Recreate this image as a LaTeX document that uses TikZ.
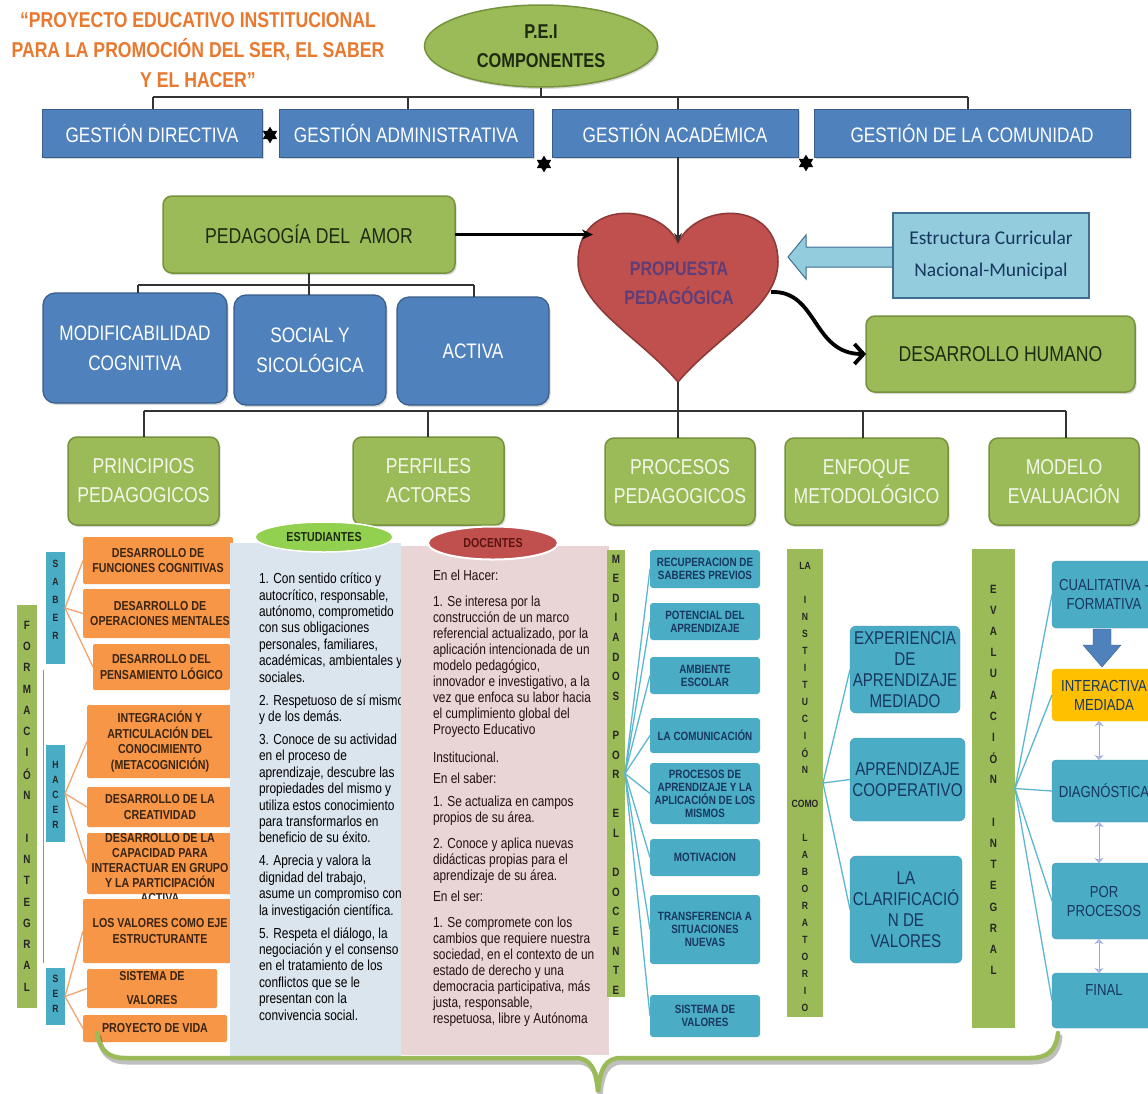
\documentclass[tikz,border=0pt]{standalone}
\usepackage{fontspec}
\setmainfont{Liberation Sans}[FakeStretch=0.82]
\newfontfamily\calib{Carlito}
\usetikzlibrary{shapes.geometric,arrows.meta,shadows}
\definecolor{gfill}{HTML}{9BBB59}
\definecolor{gline}{HTML}{76923C}
\definecolor{egreen}{HTML}{92D050}
\definecolor{bfill}{HTML}{4F81BD}
\definecolor{bline}{HTML}{385D8A}
\definecolor{tfill}{HTML}{4BACC6}
\definecolor{tline}{HTML}{4199B2}
\definecolor{ofill}{HTML}{F79646}
\definecolor{hfill}{HTML}{C0504D}
\definecolor{hline}{HTML}{8C3836}
\definecolor{lbfill}{HTML}{93CDDD}
\definecolor{lbline}{HTML}{3F6F93}
\definecolor{pblue}{HTML}{DAE5EE}
\definecolor{ppink}{HTML}{EAD5D6}
\definecolor{titor}{HTML}{E8792F}
\definecolor{hearttxt}{HTML}{5F3D78}
\definecolor{navy}{HTML}{17375E}
\definecolor{ylw}{HTML}{FFC000}
\definecolor{lav}{HTML}{9AA6DE}
\definecolor{fan}{HTML}{5DB6D0}
\definecolor{ofan}{HTML}{F2A46E}
\definecolor{gtxt}{HTML}{F3F7EA}
\definecolor{dk}{HTML}{1E2A10}
\definecolor{otxt}{HTML}{3A2412}
\definecolor{doctxt}{HTML}{241010}
\definecolor{docred}{HTML}{5C1412}
\newcommand{\fsz}[2]{\fontsize{#1}{#2}\selectfont}
\newcommand{\boxat}[7]{\node[#2, minimum width={(#5)-(#3)}, minimum height={(#6)-(#4)}] (#1) at ({((#3)+(#5))/2},{((#4)+(#6))/2}) {#7};}
\newcommand{\bracepath}{(97,1033) .. controls (100,1052) and (110,1058) .. (125,1058) -- (575,1058) .. controls (590,1058) and (596,1068) .. (598,1092) .. controls (600,1068) and (606,1058) .. (621,1058) -- (1030,1058) .. controls (1046,1058) and (1056,1052) .. (1058,1033)}
\tikzset{
 nbase/.style={inner sep=0pt, outer sep=0pt, align=center},
 shd/.style={drop shadow={shadow xshift=1.5pt, shadow yshift=-2pt, opacity=0.3}},
 topbox/.style={nbase, shd, fill=bfill, draw=bline, line width=1pt, text=white, font=\fsz{21}{24}},
 bbox/.style={nbase, shd, fill=bfill, draw=bline, line width=1.2pt, rounded corners=12pt, text=white, font=\fsz{21}{30}},
 gbox/.style={nbase, shd, fill=gfill, draw=gline, line width=1.5pt, rounded corners=9pt, text=gtxt, font=\fsz{21.5}{29}},
 gdbox/.style={gbox, text=dk},
 obox/.style={nbase, fill=ofill, rounded corners=2pt, text=otxt, font=\bfseries\fsz{13}{15.5}},
 tbox/.style={nbase, fill=tfill, rounded corners=3pt, text=navy, font=\bfseries\fsz{12}{13}},
 ebox/.style={nbase, fill=tfill, draw=tline, rounded corners=6pt, text=navy, font=\fsz{18.5}{21}},
 rbox/.style={nbase, fill=tfill, draw=tline, rounded corners=4pt, text=navy, font=\fsz{16}{19}},
 vbar/.style={nbase, fill=gfill},
 sbar/.style={nbase, fill=tfill},
 vl/.style={nbase, font=\bfseries\fsz{12}{12}, text=black!85},
 vls/.style={nbase, font=\bfseries\fsz{10.5}{10.5}, text=black!85},
 conn/.style={draw=black!80, line width=1.3pt},
 fanl/.style={draw=fan, line width=1.3pt},
 ofanl/.style={draw=ofan, line width=1.3pt},
 dbl/.style={draw=lav, line width=1pt, {Stealth[open,length=5pt,width=9pt]}-{Stealth[open,length=5pt,width=9pt]}},
 ast/.style={star, star points=6, star point ratio=1.7, fill=black, draw=black, line width=0.8pt, minimum size=15pt, inner sep=0pt},
}
\begin{document}
\begin{tikzpicture}[x=1pt,y=-1pt]
\useasboundingbox (0,0) rectangle (1148,1093);
\fill[white] (0,0) rectangle (1148,1093);

% ---------- top ----------
\node[nbase, font=\bfseries\fsz{21.5}{30}, text=titor] (title) at (198,50) {“PROYECTO EDUCATIVO INSTITUCIONAL\\PARA LA PROMOCIÓN DEL SER, EL SABER\\Y EL HACER”};
\node[ellipse, shd, fill=gfill, draw=gline, line width=1.5pt, minimum width=233, minimum height=82, inner sep=0pt, align=center, font=\bfseries\fsz{20}{29}, text=dk] (pei) at (541,46) {P.E.I\\COMPONENTES};

\boxat{gd}{topbox}{42}{109}{262}{157}{GESTIÓN DIRECTIVA}
\boxat{ga}{topbox}{279}{109}{533}{157}{GESTIÓN ADMINISTRATIVA}
\boxat{gac}{topbox}{552}{109}{798}{157}{GESTIÓN ACADÉMICA}
\boxat{gc}{topbox}{814}{109}{1130}{157}{GESTIÓN DE LA COMUNIDAD}

\coordinate (pj) at (541,97);
\coordinate (j1) at (153,97); \coordinate (j2) at (408,97);
\coordinate (j3) at (678,97); \coordinate (j4) at (968,97);
\draw[conn] (pei.south) -- (pj);
\draw[conn] (j1) -- (j4);
\draw[conn] (j1) -- (j1 |- gd.north);
\draw[conn] (j2) -- (j2 |- ga.north);
\draw[conn] (j3) -- (j3 |- gac.north);
\draw[conn] (j4) -- (j4 |- gc.north);

\node[ast] (s1) at (270,135) {};
\node[ast] (s2) at (544,164) {};
\node[ast] (s3) at (806,163) {};

% ---------- heart ----------
\coordinate (hd) at (678,243);
\coordinate (ht) at (678,382);
\filldraw[fill=hfill, draw=hline, line width=1.5pt] (hd) .. controls (660,203) and (578,198) .. (578,262) .. controls (578,307) and (640,337) .. (ht) .. controls (716,337) and (778,307) .. (778,262) .. controls (778,198) and (696,203) .. (hd) -- cycle;
\node[nbase, font=\bfseries\fsz{19.5}{29}, text=hearttxt] (ptxt) at (679,283) {PROPUESTA\\PEDAGÓGICA};
\draw[conn, line width=1.8pt, -{Stealth[length=10pt,width=8pt]}] (hd |- gac.south) -- (hd);

\boxat{ped}{gdbox}{163}{196}{455}{273}{PEDAGOGÍA DEL\ \ AMOR}
\coordinate (hl) at (593,234);
\draw[line width=2.8pt, -{Stealth[length=11pt,width=10pt]}] (ped.east) -- (ped.east -| hl);

\filldraw[fill=lbfill, draw=lbline, line width=1pt] (788,257) -- (806,235) -- (806,247) -- (895,247) -- (895,267) -- (806,267) -- (806,279) -- cycle;
\boxat{ec}{nbase, fill=lbfill, draw=lbline, line width=1.2pt, text=navy, font=\calib\fsz{19.5}{32}}{893}{213}{1089}{298}{Estructura Curricular\\Nacional-Municipal}

\boxat{dh}{gdbox}{866}{316}{1135}{392}{DESARROLLO HUMANO}
\coordinate (hr) at (771,292);
\draw[line width=3.8pt, -{Straight Barb[length=9pt,width=20pt]}] (hr) .. controls (818,290) and (812,354) .. (dh.west);

% ---------- row 2 ----------
\boxat{mc}{bbox}{43}{293}{227}{403}{MODIFICABILIDAD\\COGNITIVA}
\boxat{sy}{bbox}{234}{295}{386}{405}{SOCIAL Y\\SICOLÓGICA}
\boxat{ac}{bbox}{397}{297}{549}{405}{ACTIVA}
\coordinate (k0) at (309,285); \coordinate (k1) at (138,285); \coordinate (k3) at (474,285);
\draw[conn] (ped.south) -- (k0);
\draw[conn] (k1) -- (k3);
\draw[conn] (k1) -- (k1 |- mc.north);
\draw[conn] (k0) -- (k0 |- sy.north);
\draw[conn] (k3) -- (k3 |- ac.north);

% ---------- row 3 ----------
\boxat{pp}{gbox}{68}{437}{219}{525}{PRINCIPIOS\\PEDAGOGICOS}
\boxat{pa}{gbox}{353}{437}{504}{525}{PERFILES\\ACTORES}
\boxat{prp}{gbox}{605}{438}{755}{525}{PROCESOS\\PEDAGOGICOS}
\boxat{em}{gbox}{785}{438}{948}{525}{ENFOQUE\\METODOLÓGICO}
\boxat{me}{gbox}{989}{438}{1139}{525}{MODELO\\EVALUACIÓN}
\coordinate (m1) at (144,411); \coordinate (m2) at (428,411);
\coordinate (m4) at (863,411); \coordinate (m5) at (1066,411);
\draw[conn] (ht) -- (ht |- prp.north);
\draw[conn] (m1) -- (m5);
\draw[conn] (m1) -- (m1 |- pp.north);
\draw[conn] (m2) -- (m2 |- pa.north);
\draw[conn] (m4) -- (m4 |- em.north);
\draw[conn] (m5) -- (m5 |- me.north);

% ---------- principios ----------
\boxat{o1}{obox}{83}{537}{233}{584}{DESARROLLO DE\\FUNCIONES COGNITIVAS}
\boxat{o2}{obox}{83}{589}{237}{638}{DESARROLLO DE\\OPERACIONES MENTALES}
\boxat{o3}{obox}{93}{644}{230}{690}{DESARROLLO DEL\\PENSAMIENTO LÓGICO}
\boxat{o4}{obox}{87}{705}{233}{778}{INTEGRACIÓN Y\\ARTICULACIÓN DEL\\CONOCIMIENTO\\(METACOGNICIÓN)}
\boxat{o5}{obox}{87}{787}{233}{827}{DESARROLLO DE LA\\CREATIVIDAD}
\boxat{o6}{obox}{87}{833}{233}{894}{}
\node[nbase, anchor=north, text=otxt, font=\bfseries\fsz{13}{15.2}] (o6t) at (160,833) {DESARROLLO DE LA\\CAPACIDAD PARA\\INTERACTUAR EN GRUPO\\Y LA PARTICIPACIÓN\\ACTIVA};
\boxat{o7}{obox}{83}{899}{237}{963}{LOS VALORES COMO EJE\\ESTRUCTURANTE}
\boxat{o8}{obox, font=\bfseries\fsz{13}{24}}{87}{969}{217}{1008}{SISTEMA DE\\VALORES}
\boxat{o9}{obox}{83}{1015}{227}{1042}{PROYECTO DE VIDA}

\boxat{fi}{vbar}{17}{605}{37}{1008}{}
\boxat{sab}{sbar}{46}{552}{65}{664}{}
\boxat{hac}{sbar}{46}{745}{65}{842}{}
\boxat{ser}{sbar}{46}{968}{65}{1025}{}
\draw[draw=tfill, line width=1pt] (43,670) -- (43,963);
\foreach \l [count=\i from 0] in {F,O,R,M,A,C,I,Ó,N,~,I,N,T,E,G,R,A,L}
  \node[vl] (fl\i) at (27,{625+\i*21.3}) {\l};
\foreach \l [count=\i from 0] in {S,A,B,E,R}
  \node[vls] (sl\i) at (55.5,{564+\i*18}) {\l};
\foreach \l [count=\i from 0] in {H,A,C,E,R}
  \node[vls] (hl\i) at (55.5,{765+\i*15}) {\l};
\foreach \l [count=\i from 0] in {S,E,R}
  \node[vls] (rl\i) at (55.5,{979+\i*15}) {\l};
\foreach \n in {o1,o2,o3} \draw[ofanl] (sab.east) -- (\n.west);
\foreach \n in {o4,o5,o6} \draw[ofanl] (hac.east) -- (\n.west);
\foreach \n in {o7,o8,o9} \draw[ofanl] (ser.east) -- (\n.west);

% ---------- perfiles ----------
\boxat{pb}{nbase, fill=pblue}{230}{543}{401}{1060}{}
\node[nbase, anchor=north west, align=left, text=black, font=\fsz{14.5}{16.4}] (etx) at (259,573) {1. Con sentido crítico y\\
autocrítico, responsable,\\
autónomo, comprometido\\
con sus obligaciones\\
personales, familiares,\\
académicas, ambientales y\\
sociales.\\[6.6pt]
2. Respetuoso de sí mismo\\
y de los demás.\\[6.6pt]
3. Conoce de su actividad\\
en el proceso de\\
aprendizaje, descubre las\\
propiedades del mismo y\\
utiliza estos conocimiento\\
para transformarlos en\\
beneficio de su éxito.\\[6.6pt]
4. Aprecia y valora la\\
dignidad del trabajo,\\
asume un compromiso con\\
la investigación científica.\\[6.6pt]
5. Respeta el diálogo, la\\
negociación y el consenso\\
en el tratamiento de los\\
conflictos que se le\\
presentan con la\\
convivencia social.};
\boxat{pk}{nbase, fill=ppink}{401}{546}{609}{1055}{}
\node[nbase, anchor=north west, align=left, text=doctxt, font=\fsz{14.5}{16}] (dtx) at (433,570) {En el Hacer:\\[10pt]
1. Se interesa por la\\
construcción de un marco\\
referencial actualizado, por la\\
aplicación intencionada de un\\
modelo pedagógico,\\
innovador e investigativo, a la\\
vez que enfoca su labor hacia\\
el cumplimiento global del\\
Proyecto Educativo\\[12pt]
Institucional.\\[5pt]
En el saber:\\[7pt]
1. Se actualiza en campos\\
propios de su área.\\[10pt]
2. Conoce y aplica nuevas\\
didácticas propias para el\\
aprendizaje de su área.\\[5pt]
En el ser:\\[10pt]
1. Se compromete con los\\
cambios que requiere nuestra\\
sociedad, en el contexto de un\\
estado de derecho y una\\
democracia participativa, más\\
justa, responsable,\\
respetuosa, libre y Autónoma};
\node[ellipse, fill=egreen, draw=white, line width=1.5pt, minimum width=138, minimum height=30, inner sep=0pt, font=\bfseries\fsz{13}{13}, text=dk] (est) at (324,537) {ESTUDIANTES};
\node[ellipse, fill=hfill, draw=white, line width=2pt, minimum width=130, minimum height=33, inner sep=0pt, font=\bfseries\fsz{13}{13}, text=docred] (doc) at (493,543) {DOCENTES};

% ---------- procesos ----------
\boxat{md}{vbar}{607}{550}{625}{997}{}
\foreach \l [count=\i from 0] in {M,E,D,I,A,D,O,S,~,P,O,R,~,E,L,~,D,O,C,E,N,T,E}
  \node[vl] (ml\i) at (616,{559+\i*19.6}) {\l};
\boxat{p1}{tbox}{650}{550}{760}{588}{RECUPERACION DE\\SABERES PREVIOS}
\boxat{p2}{tbox}{650}{603}{760}{640}{POTENCIAL DEL\\APRENDIZAJE}
\boxat{p3}{tbox}{650}{657}{760}{694}{AMBIENTE\\ESCOLAR}
\boxat{p4}{tbox}{650}{718}{760}{753}{LA COMUNICACIÓN}
\boxat{p5}{tbox}{650}{763}{760}{824}{PROCESOS DE\\APRENDIZAJE Y LA\\APLICACIÓN DE LOS\\MISMOS}
\boxat{p6}{tbox}{650}{839}{760}{876}{MOTIVACION}
\boxat{p7}{tbox}{650}{895}{760}{964}{TRANSFERENCIA A\\SITUACIONES\\NUEVAS}
\boxat{p8}{tbox}{650}{995}{760}{1037}{SISTEMA DE\\VALORES}
\foreach \n in {p1,p2,p3,p4,p5,p6,p7,p8} \draw[fanl] (md.east) -- (\n.west);

% ---------- enfoque ----------
\boxat{lb}{vbar}{787}{549}{823}{1017}{}
\foreach \l [count=\i from 0] in {LA,~,I,N,S,T,I,T,U,C,I,Ó,N,~,COMO,~,L,A,B,O,R,A,T,O,R,I,O}
  \node[vls] (ll\i) at (805,{566+\i*17}) {\l};
\boxat{e1}{ebox}{850}{626}{960}{713}{EXPERIENCIA\\DE\\APRENDIZAJE\\MEDIADO}
\boxat{e2}{ebox}{850}{738}{965}{821}{APRENDIZAJE\\COOPERATIVO}
\boxat{e3}{ebox}{850}{856}{962}{963}{LA\\CLARIFICACIÓ\\N DE\\VALORES}
\foreach \n in {e1,e2,e3} \draw[fanl] (lb.east) -- (\n.west);

% ---------- evaluacion ----------
\boxat{ev}{vbar}{972}{549}{1015}{1028}{}
\foreach \l [count=\i from 0] in {E,V,A,L,U,A,C,I,Ó,N,~,I,N,T,E,G,R,A,L}
  \node[vl] (vv\i) at (993.5,{589+\i*21.2}) {\l};
\boxat{r1}{rbox}{1052}{561}{1156}{628}{CUALITATIVA -\\FORMATIVA}
\boxat{r2}{rbox, fill=ylw, draw=ylw}{1052}{669}{1156}{721}{INTERACTIVA\\MEDIADA}
\boxat{r3}{rbox}{1052}{760}{1156}{822}{DIAGNÓSTICA}
\boxat{r4}{rbox}{1052}{863}{1156}{939}{POR\\PROCESOS}
\boxat{r5}{rbox}{1052}{973}{1156}{1028}{}
\node[nbase, text=navy, font=\fsz{16}{19}] (r5t) at (1104,990) {FINAL};
\filldraw[fill=bfill, draw=bline] (1093,629) -- (1111,629) -- (1111,645) -- (1121,645) -- (1102,667) -- (1083,645) -- (1093,645) -- cycle;
\coordinate (dx) at (1099,0);
\draw[dbl] (r2.south -| dx) -- (r3.north -| dx);
\draw[dbl] (r3.south -| dx) -- (r4.north -| dx);
\draw[dbl] (r4.south -| dx) -- (r5.north -| dx);
\foreach \n in {r1,r2,r3,r4,r5} \draw[fanl] (ev.east) -- (\n.west);

% ---------- brace ----------
\draw[black, opacity=0.25, line width=5pt, line cap=round, shift={(2,4)}] \bracepath;
\draw[gfill, line width=4.5pt, line cap=round] \bracepath;
\end{tikzpicture}
\end{document}
